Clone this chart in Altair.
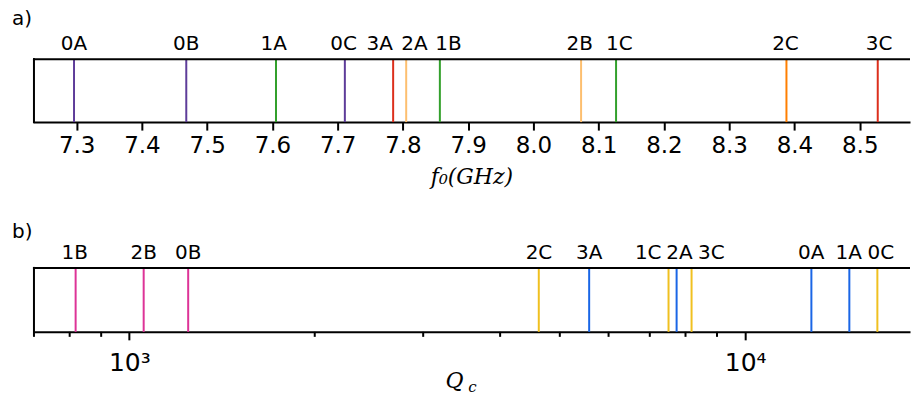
import altair as alt
import pandas as pd

# ---------------- data ----------------
names_a = ["0A", "0B", "1A", "0C", "3A", "2A", "1B", "2B", "1C", "2C", "3C"]
f0_ghz = [7.296, 7.468, 7.6055, 7.711, 7.785, 7.805, 7.8566, 8.073, 8.1266, 8.3877, 8.5276]
label_pos_a = [7.296, 7.468, 7.602, 7.709, 7.7643, 7.8178, 7.8699, 8.0709, 8.1317, 8.3862, 8.5296]

names_b = ["1B", "2B", "0B", "2C", "3A", "1C", "2A", "3C", "0A", "1A", "0C"]
qc = [818, 1055, 1246, 4622, 5580, 7508, 7738, 8183, 12808, 14761, 16392]
label_pos_b = [815, 1055, 1246, 4625, 5580, 6959, 7824, 8814, 12800, 14730, 16610]

ticks_a = [7.3, 7.4, 7.5, 7.6, 7.7, 7.8, 7.9, 8.0, 8.1, 8.2, 8.3, 8.4, 8.5]
major_b = [1000, 10000]
minor_b = [700, 800, 900, 2000, 3000, 4000, 5000, 6000, 7000, 8000, 9000]

# ---------------- styles ----------------
colors_a = {"0A": "#5e3c99", "0B": "#5e3c99", "0C": "#5e3c99",
            "1A": "#33a02c", "1B": "#33a02c", "1C": "#33a02c",
            "2A": "#fdbf6f", "2B": "#fdbf6f", "2C": "#ff7f00",
            "3A": "#dc2f1c", "3C": "#dc2f1c"}
colors_b = {"0A": "#1a66e6", "1A": "#1a66e6", "2A": "#1a66e6", "3A": "#1a66e6",
            "0B": "#dd3497", "1B": "#dd3497", "2B": "#dd3497",
            "0C": "#f0c020", "1C": "#f0c020", "2C": "#f0c020", "3C": "#f0c020"}

W = 876
HA = 63
HB = 64
LABEL_FONT = "DejaVu Sans"

df_a = pd.DataFrame({"name": names_a, "f0": f0_ghz, "lab": label_pos_a})
df_b = pd.DataFrame({"name": names_b, "qc": qc, "lab": label_pos_b})
df_minor = pd.DataFrame({"v": minor_b})
dummy = pd.DataFrame({"k": [0]})

scale_a = alt.Scale(domain=[7.2346, 8.5755], nice=False, zero=False)
scale_b = alt.Scale(type="log", domain=[700, 18450], nice=False)

axis_a = alt.Axis(values=ticks_a, format=".1f", title="f₀(GHz)",
                  labelFontSize=23, labelPadding=4, titlePadding=9)
axis_b = alt.Axis(values=major_b, title=None, labelFontSize=25, labelPadding=11,
                  labelExpr="datum.value == 1000 ? '10³' : '10⁴'")


def frame(h):
    left = alt.Chart(dummy).mark_rule(color="black", strokeWidth=2, strokeCap="square").encode(
        x=alt.value(0), y=alt.value(0), y2=alt.value(h))
    top = alt.Chart(dummy).mark_rule(color="black", strokeWidth=2, strokeCap="square").encode(
        x=alt.value(0), x2=alt.value(W), y=alt.value(0))
    return left, top


def panel_tag(txt, y):
    return alt.Chart(dummy).mark_text(
        text=txt, font=LABEL_FONT, fontSize=20, align="left", baseline="alphabetic", color="black"
    ).encode(x=alt.value(-22), y=alt.value(y))


# ---------------- panel a ----------------
lines_a = alt.Chart(df_a).mark_rule(strokeWidth=2).encode(
    x=alt.X("f0:Q", scale=scale_a, axis=axis_a),
    y=alt.value(0), y2=alt.value(HA),
    color=alt.Color("name:N", scale=alt.Scale(domain=list(colors_a.keys()),
                                              range=list(colors_a.values())), legend=None),
)
text_a = alt.Chart(df_a).mark_text(
    font=LABEL_FONT, fontSize=20, baseline="alphabetic", align="center", color="black"
).encode(x=alt.X("lab:Q", scale=scale_a, axis=axis_a), y=alt.value(-9), text="name:N")

la, ta = frame(HA)
panel_a = alt.layer(lines_a, text_a, la, ta, panel_tag("a)", -34)).properties(width=W, height=HA)

# ---------------- panel b ----------------
lines_b = alt.Chart(df_b).mark_rule(strokeWidth=2).encode(
    x=alt.X("qc:Q", scale=scale_b, axis=axis_b),
    y=alt.value(0), y2=alt.value(HB),
    color=alt.Color("name:N", scale=alt.Scale(domain=list(colors_b.keys()),
                                              range=list(colors_b.values())), legend=None),
)
text_b = alt.Chart(df_b).mark_text(
    font=LABEL_FONT, fontSize=20, baseline="alphabetic", align="center", color="black"
).encode(x=alt.X("lab:Q", scale=scale_b, axis=axis_b), y=alt.value(-9), text="name:N")

minor_ticks = alt.Chart(df_minor).mark_rule(color="black", strokeWidth=2).encode(
    x=alt.X("v:Q", scale=scale_b, axis=axis_b), y=alt.value(HB), y2=alt.value(HB + 5))

q_text = alt.Chart(dummy).mark_text(
    text="Q", font="DejaVu Serif", fontStyle="italic", fontSize=22, align="center",
    baseline="alphabetic", color="black").encode(x=alt.value(421), y=alt.value(120))
c_text = alt.Chart(dummy).mark_text(
    text="c", font="DejaVu Serif", fontStyle="italic", fontSize=15, align="center",
    baseline="alphabetic", color="black").encode(x=alt.value(439), y=alt.value(124))

lb, tb = frame(HB)
panel_b = alt.layer(lines_b, text_b, minor_ticks, lb, tb, q_text, c_text,
                    panel_tag("b)", -30)).properties(width=W, height=HB)

chart = alt.vconcat(panel_a, panel_b, spacing=146, bounds="flush").resolve_scale(
    color="independent", x="independent"
).properties(
    padding={"left": 12, "top": 9, "right": 0, "bottom": 3}
).configure_view(stroke=None).configure_axis(
    domainColor="black", domainWidth=2, domainCap="square",
    tickColor="black", tickWidth=2, tickSize=8,
    labelFont=LABEL_FONT, labelColor="black",
    titleFont="DejaVu Serif", titleFontStyle="italic", titleFontWeight="normal",
    titleFontSize=22, titleColor="black", grid=False,
)

chart.save("out.html", embed_options={"renderer": "svg", "actions": False})
